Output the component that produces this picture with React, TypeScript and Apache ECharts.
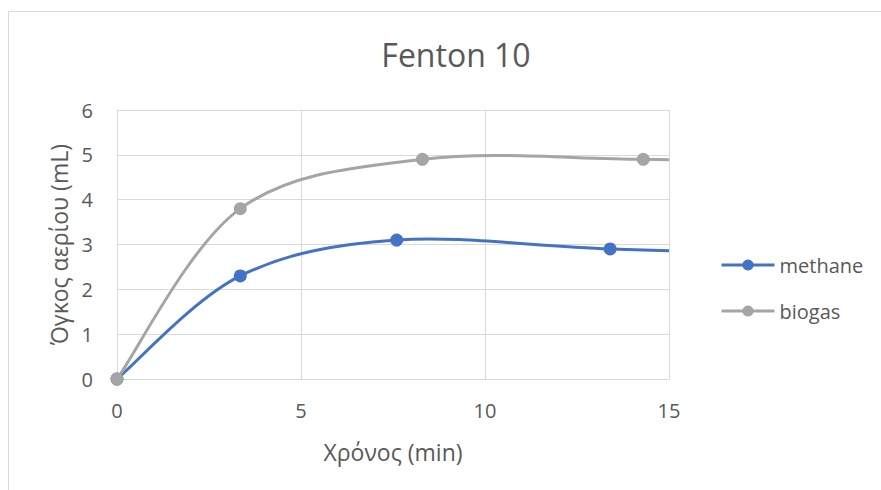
import React, { useEffect, useRef } from "react";
import * as echarts from "echarts";

// Gas volume over time for the Fenton 10 run
const methaneTime = [0, 3.35, 7.6, 13.4, 20];
const methaneVolume = [0, 2.3, 3.1, 2.9, 2.75];
const biogasTime = [0, 3.35, 8.3, 14.3, 21];
const biogasVolume = [0, 3.8, 4.9, 4.9, 4.8];

const xTicks = [0, 5, 10, 15];
const yTicks = [0, 1, 2, 3, 4, 5, 6];

const FONT = "'Open Sans', 'Noto Sans', sans-serif";
const TEXT = "#595959";
const BLUE = "#4472C4";
const GREY = "#A5A5A5";

const pair = (xs: number[], ys: number[]) => xs.map((x, i) => [x, ys[i]]);

// Catmull-Rom style smoothed curve through the projected points (spreadsheet-like smoothing)
function smoothCurve(xs: number[], ys: number[], color: string) {
  return (params: any, api: any) => {
    if (params.dataIndex !== 0) return null;
    const p = xs.map((x, i) => api.coord([x, ys[i]]) as number[]);
    const n = p.length;
    let d = `M${p[0][0]},${p[0][1]}`;
    for (let i = 0; i < n - 1; i++) {
      const p0 = p[Math.max(i - 1, 0)];
      const p1 = p[i];
      const p2 = p[i + 1];
      const p3 = p[Math.min(i + 2, n - 1)];
      const c1x = p1[0] + (p2[0] - p0[0]) / 6;
      const c1y = p1[1] + (p2[1] - p0[1]) / 6;
      const c2x = p2[0] - (p3[0] - p1[0]) / 6;
      const c2y = p2[1] - (p3[1] - p1[1]) / 6;
      d += ` C${c1x},${c1y} ${c2x},${c2y} ${p2[0]},${p2[1]}`;
    }
    return {
      type: "path",
      shape: { pathData: d },
      style: { fill: "none", stroke: color, lineWidth: 3, lineJoin: "round", lineCap: "round" },
    };
  };
}

export default function App() {
  const ref = useRef<HTMLDivElement>(null);

  useEffect(() => {
    document.body.style.margin = "0";
    const chart = echarts.init(ref.current!, null, { renderer: "svg" });
    const markerSeries = (name: string, xs: number[], ys: number[], color: string, z: number) => ({
      name,
      type: "line",
      data: pair(xs, ys),
      clip: true,
      z,
      symbol: "circle",
      symbolSize: 13,
      itemStyle: { color },
      lineStyle: { color, width: 3, opacity: 0 },
    });
    const curveSeries = (name: string, xs: number[], ys: number[], color: string, z: number) => ({
      name,
      type: "custom",
      coordinateSystem: "cartesian2d",
      clip: true,
      silent: true,
      z,
      encode: { x: 0, y: 1 },
      data: pair(xs, ys),
      renderItem: smoothCurve(xs, ys, color),
    });
    chart.setOption({
      animation: false,
      backgroundColor: "#ffffff",
      textStyle: { fontFamily: FONT, color: TEXT },
      title: {
        text: "Fenton 10",
        left: 451,
        top: 33,
        textAlign: "center",
        textStyle: { fontFamily: FONT, fontSize: 32, fontWeight: "normal", color: TEXT },
      },
      graphic: [
        {
          type: "rect",
          shape: { x: 8.5, y: 11.5, width: 900, height: 500 },
          style: { fill: "none", stroke: "#d9d9d9", lineWidth: 1 },
          silent: true,
        },
      ],
      legend: {
        orient: "vertical",
        left: 715,
        top: 250,
        itemWidth: 53,
        itemHeight: 14,
        itemGap: 26,
        textStyle: { fontFamily: FONT, fontSize: 20, color: TEXT },
        data: [
          { name: "methane", lineStyle: { color: BLUE, width: 3, opacity: 1 } },
          { name: "biogas", lineStyle: { color: GREY, width: 3, opacity: 1 } },
        ],
      },
      grid: { left: 117, top: 110, right: 212, bottom: 111, containLabel: false },
      xAxis: {
        type: "value",
        min: xTicks[0],
        max: xTicks[xTicks.length - 1],
        interval: 5,
        name: "Χρόνος (min)",
        nameLocation: "middle",
        nameGap: 61,
        nameTextStyle: { fontFamily: FONT, fontSize: 23, color: TEXT },
        axisLine: { show: true, lineStyle: { color: "#d9d9d9", width: 1 } },
        axisTick: { show: false },
        axisLabel: { fontFamily: FONT, fontSize: 20, color: TEXT, margin: 21 },
        splitLine: { show: true, lineStyle: { color: "#d9d9d9", width: 1 } },
      },
      yAxis: {
        type: "value",
        min: yTicks[0],
        max: yTicks[yTicks.length - 1],
        interval: 1,
        name: "Όγκος αερίου (mL)",
        nameLocation: "middle",
        nameGap: 46,
        nameTextStyle: { fontFamily: FONT, fontSize: 23, color: TEXT },
        axisLine: { show: false },
        axisTick: { show: false },
        axisLabel: { fontFamily: FONT, fontSize: 20, color: TEXT, margin: 24 },
        splitLine: { show: true, lineStyle: { color: "#d9d9d9", width: 1 } },
      },
      series: [
        curveSeries("methane curve", methaneTime, methaneVolume, BLUE, 2),
        curveSeries("biogas curve", biogasTime, biogasVolume, GREY, 3),
        markerSeries("methane", methaneTime, methaneVolume, BLUE, 4),
        markerSeries("biogas", biogasTime, biogasVolume, GREY, 5),
      ],
    });
    return () => chart.dispose();
  }, []);

  return <div ref={ref} style={{ width: 881, height: 490 }} />;
}
